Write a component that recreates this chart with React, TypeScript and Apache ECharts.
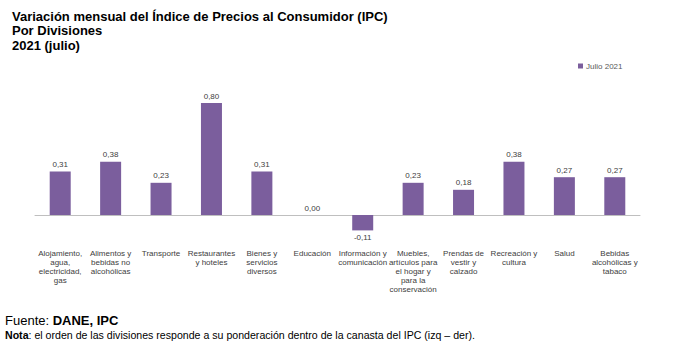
import React, { useEffect, useRef } from "react";
import * as echarts from "echarts";

const categories = [
  "Alojamiento,\nagua,\nelectricidad,\ngas",
  "Alimentos y\nbebidas no\nalcohólicas",
  "Transporte",
  "Restaurantes\ny hoteles",
  "Bienes y\nservicios\ndiversos",
  "Educación",
  "Información y\ncomunicación",
  "Muebles,\nartículos para\nel hogar y\npara la\nconservación",
  "Prendas de\nvestir y\ncalzado",
  "Recreación y\ncultura",
  "Salud",
  "Bebidas\nalcohólicas y\ntabaco",
];
const values = [0.31, 0.38, 0.23, 0.8, 0.31, 0.0, -0.11, 0.23, 0.18, 0.38, 0.27, 0.27];
const seriesName = "Julio 2021";
const titleLines = [
  "Variación mensual del Índice de Precios al Consumidor (IPC)",
  "Por Divisiones",
  "2021 (julio)",
];

export default function App() {
  const ref = useRef<HTMLDivElement>(null);
  useEffect(() => {
    if (!ref.current) return;
    const chart = echarts.init(ref.current, undefined, { renderer: "svg" });
    const font = "Liberation Sans, Arial, sans-serif";
    chart.setOption({
      animation: false,
      textStyle: { fontFamily: font },
      title: {
        text: titleLines.join("\n"),
        left: 7,
        top: 4,
        textStyle: { fontSize: 13, fontWeight: "bold", color: "#000", lineHeight: 14.5, fontFamily: font },
      },
      legend: {
        data: [seriesName],
        left: 573,
        top: 57,
        icon: "rect",
        itemWidth: 5,
        itemHeight: 5,
        itemGap: 3,
        textStyle: { fontSize: 8, color: "#595959", fontFamily: font, padding: [0, 0, 0, -2] },
      },
      grid: { left: 35, right: 46, top: 89, bottom: 111 },
      xAxis: {
        type: "category",
        data: categories,
        axisLine: { onZero: true, lineStyle: { color: "#bfbfbf", width: 1 } },
        axisTick: { show: false },
        axisLabel: {
          interval: 0,
          margin: 6,
          fontSize: 8,
          lineHeight: 9,
          color: "#404040",
          align: "center",
          fontFamily: font,
        },
      },
      yAxis: {
        type: "value",
        min: -0.2,
        max: 0.9,
        show: false,
        splitLine: { show: false },
      },
      series: [
        {
          name: seriesName,
          type: "bar",
          barWidth: 21,
          itemStyle: { color: "#7B5E9D" },
          label: {
            show: true,
            position: "top",
            distance: 3,
            fontSize: 8,
            color: "#404040",
            fontFamily: font,
            formatter: (p: any) => Number(p.value).toFixed(2).replace(".", ","),
          },
          data: values.map((v) =>
            v < 0 ? { value: v, label: { position: "bottom" } } : v
          ),
        },
      ],
      graphic: [
        {
          type: "text",
          left: 5,
          top: 314,
          style: {
            text: "{n|Fuente: }{b|DANE, IPC}",
            rich: {
              n: { fontSize: 13, fontFamily: font, fill: "#000" },
              b: { fontSize: 13, fontFamily: font, fontWeight: "bold", fill: "#000" },
            },
          },
        },
        {
          type: "text",
          left: 5,
          top: 329,
          style: {
            text: "{b|Nota}{n|: el orden de las divisiones responde a su ponderación dentro de la canasta del IPC (izq – der).}",
            rich: {
              n: { fontSize: 10.6, fontFamily: font, fill: "#000" },
              b: { fontSize: 10.6, fontFamily: font, fontWeight: "bold", fill: "#000" },
            },
          },
        },
      ],
    });
    return () => chart.dispose();
  }, []);
  return (
    <div
      ref={ref}
      style={{ position: "fixed", left: 0, top: 0, width: 686, height: 354, background: "#fff" }}
    />
  );
}
